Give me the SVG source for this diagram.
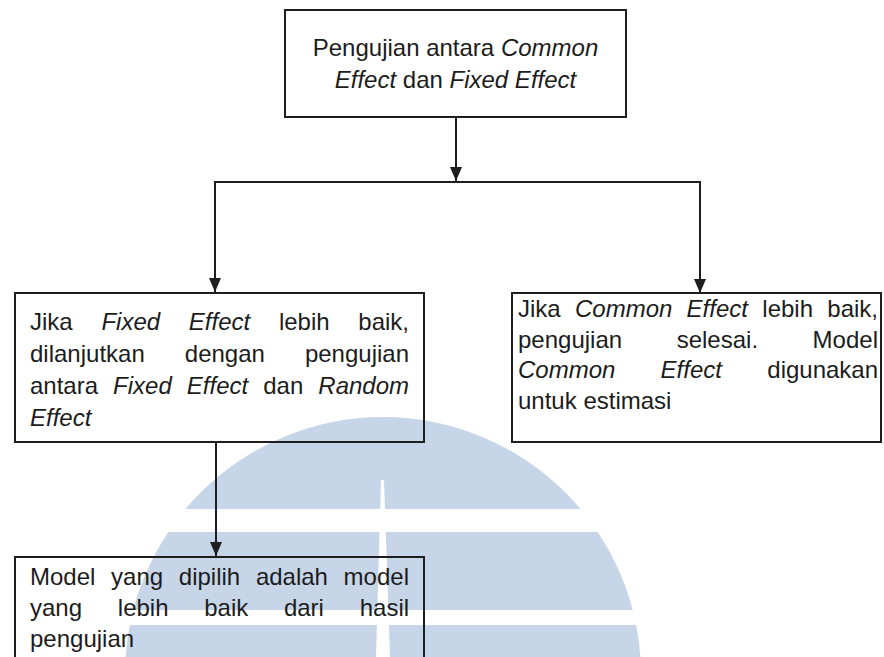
<svg xmlns="http://www.w3.org/2000/svg" width="884" height="657" viewBox="0 0 884 657">
<style>
  .box{fill:none;stroke:#1e1e1e;stroke-width:2}
  .wire{fill:none;stroke:#1e1e1e;stroke-width:2}
  .t{font-family:"Liberation Sans",Arial,sans-serif;font-size:24px;fill:#1c1c1c}
  .i{font-style:italic}
  .wm{fill:#c7d5e8}
  .wmcut{fill:#ffffff}
</style>
<defs>
  <marker id="ah" markerUnits="userSpaceOnUse" markerWidth="14" markerHeight="12" refX="14" refY="6" orient="auto">
    <path d="M0,0 L14,6 L0,12 z" fill="#1e1e1e"/>
  </marker>
</defs>
<rect x="0" y="0" width="884" height="657" fill="#ffffff"/>
<g id="watermark">
  <circle class="wm" cx="383" cy="675" r="258"/>
  <rect class="wmcut" x="100" y="509" width="580" height="23"/>
  <rect class="wmcut" x="100" y="610" width="580" height="15"/>
  <polygon class="wmcut" points="381,480 384,480 390,657 376,657"/>
</g>
<g id="connectors">
  <line class="wire" x1="456" y1="117" x2="456" y2="181" marker-end="url(#ah)"/>
  <polyline class="wire" points="215,292 215,182 700,182 700,293"/>
  <line class="wire" x1="215" y1="200" x2="215" y2="292" marker-end="url(#ah)"/>
  <line class="wire" x1="700" y1="200" x2="700" y2="293" marker-end="url(#ah)"/>
  <line class="wire" x1="216" y1="443" x2="216" y2="556" marker-end="url(#ah)"/>
</g>
<g id="node-top">
  <rect class="box" x="285" y="10" width="341" height="107"/>
  <text class="t" x="455.5" y="56" text-anchor="middle">Pengujian antara <tspan class="i">Common</tspan></text>
  <text class="t" x="455.5" y="88" text-anchor="middle"><tspan class="i">Effect</tspan> dan <tspan class="i">Fixed Effect</tspan></text>
</g>
<g id="node-fixed">
  <rect class="box" x="15" y="293" width="409" height="149"/>
  <text class="t" y="330"><tspan x="30">Jika</tspan><tspan class="i" x="101.4">Fixed</tspan><tspan class="i" x="188.8">Effect</tspan><tspan x="278.9">lebih</tspan><tspan x="358.3">baik,</tspan></text>
  <text class="t" y="362"><tspan x="30">dilanjutkan</tspan><tspan x="184.8">dengan</tspan><tspan x="304.9">pengujian</tspan></text>
  <text class="t" y="394"><tspan x="30">antara</tspan><tspan class="i" x="113.1">Fixed</tspan><tspan class="i" x="186.8">Effect</tspan><tspan x="263.2">dan</tspan><tspan class="i" x="318.3">Random</tspan></text>
  <text class="t" y="426"><tspan class="i" x="30">Effect</tspan></text>
</g>
<g id="node-common">
  <rect class="box" x="512" y="293" width="369" height="149"/>
  <text class="t" y="317"><tspan x="518">Jika</tspan><tspan class="i" x="575">Common</tspan><tspan class="i" x="686.6">Effect</tspan><tspan x="762.3">lebih</tspan><tspan x="827.3">baik,</tspan></text>
  <text class="t" y="347.5"><tspan x="518">pengujian</tspan><tspan x="676.7">selesai.</tspan><tspan x="812.6">Model</tspan></text>
  <text class="t" y="378"><tspan class="i" x="518">Common</tspan><tspan class="i" x="660.6">Effect</tspan><tspan x="767.3">digunakan</tspan></text>
  <text class="t" y="408.5"><tspan x="518">untuk estimasi</tspan></text>
</g>
<g id="node-result">
  <rect class="box" x="15" y="557" width="409" height="120"/>
  <text class="t" y="585"><tspan x="30">Model</tspan><tspan x="111.1">yang</tspan><tspan x="178.8">dipilih</tspan><tspan x="255.9">adalah</tspan><tspan x="343.6">model</tspan></text>
  <text class="t" y="616"><tspan x="30">yang</tspan><tspan x="117.8">lebih</tspan><tspan x="204.2">baik</tspan><tspan x="283.9">dari</tspan><tspan x="359.7">hasil</tspan></text>
  <text class="t" y="647"><tspan x="30">pengujian</tspan></text>
</g>
</svg>
